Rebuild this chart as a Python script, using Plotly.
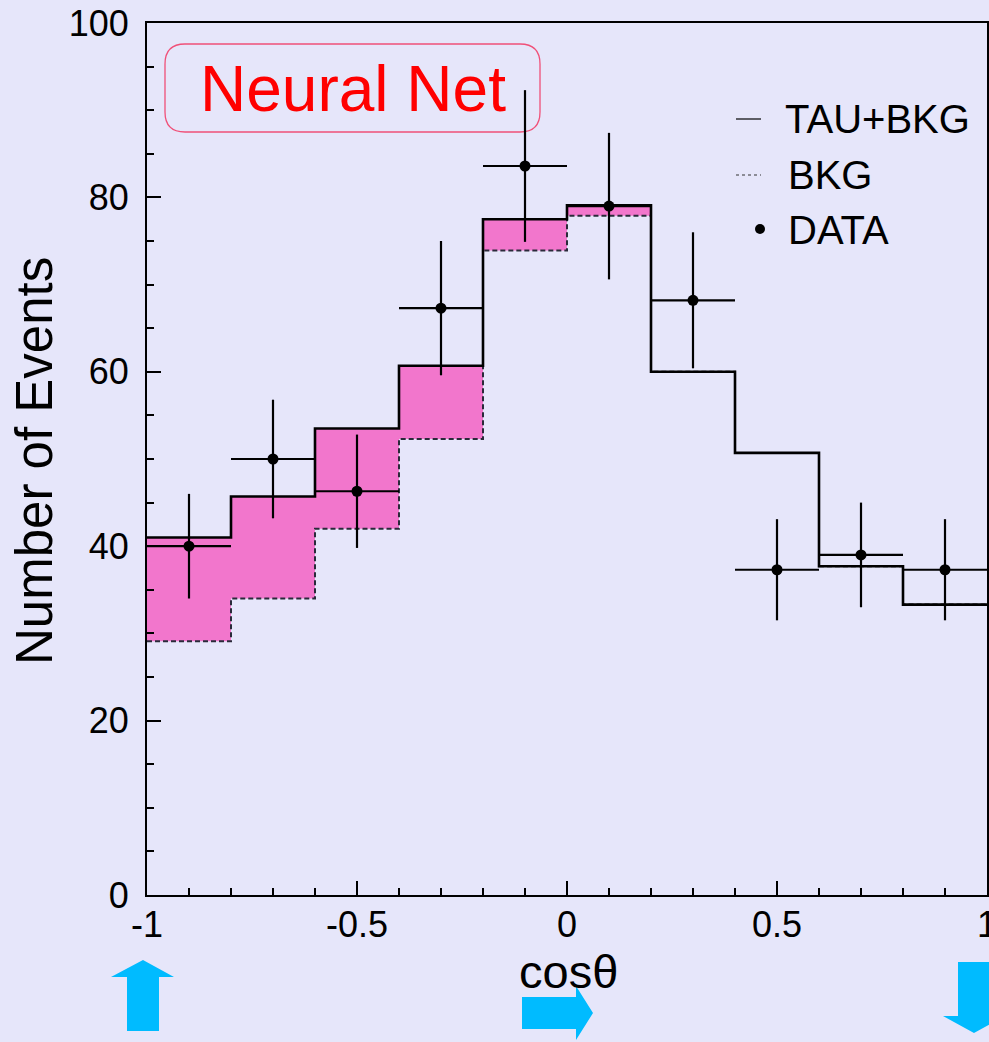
import plotly.graph_objects as go

# ---------------- data ----------------
bin_edges = [-1.0, -0.8, -0.6, -0.4, -0.2, 0.0, 0.2, 0.4, 0.6, 0.8, 1.0]
bin_centers = [-0.9, -0.7, -0.5, -0.3, -0.1, 0.1, 0.3, 0.5, 0.7, 0.9]
tau_bkg = [41.0, 45.7, 53.5, 60.7, 77.5, 79.1, 60.0, 50.7, 37.7, 33.3]
bkg = [29.1, 34.0, 42.0, 52.3, 73.9, 77.9, 60.0, 50.7, 37.7, 33.3]
data_vals = [40.0, 50.0, 46.3, 67.3, 83.6, 79.0, 68.2, 37.3, 39.0, 37.3]
data_err = [6.0, 6.8, 6.5, 7.7, 8.7, 8.4, 7.8, 5.8, 6.0, 5.8]
bin_half = [0.1] * 10
x_tickvals = [-1, -0.5, 0, 0.5, 1]
x_ticktext = ["-1", "-0.5", "0", "0.5", "1"]
y_tickvals = [0, 20, 40, 60, 80, 100]
y_ticktext = ["0", "20", "40", "60", "80", "100"]

BG = "#E6E6FA"
PINK = "#F276CC"
CYAN = "#00BBFF"
FONT = "Liberation Sans"

# plot-area geometry in pixels (used only for decorations)
W, H = 989, 1042
L, R, T, B = 147, 2, 23, 147
PW = W - L - R
PH = H - T - B


def px(x):
    return (x - L) / PW


def py(y):
    return (H - B - y) / PH


def path(points):
    s = "M " + " L ".join(f"{px(x):.5f},{py(y):.5f}" for x, y in points) + " Z"
    return s


fig = go.Figure()

# fill between BKG and TAU+BKG
fig.add_trace(go.Scatter(x=bin_edges, y=bkg + [bkg[-1]], mode="lines",
                         line=dict(shape="hv", width=0, color=PINK),
                         showlegend=False, hoverinfo="skip"))
fig.add_trace(go.Scatter(x=bin_edges, y=tau_bkg + [tau_bkg[-1]], mode="lines",
                         line=dict(shape="hv", width=0, color=PINK),
                         fill="tonexty", fillcolor=PINK,
                         showlegend=False, hoverinfo="skip"))
# BKG dashed line
fig.add_trace(go.Scatter(x=bin_edges, y=bkg + [bkg[-1]], mode="lines",
                         line=dict(shape="hv", width=2, color="#2a2a3a", dash="5px,3px"),
                         name="BKG", showlegend=False))
# TAU+BKG solid
fig.add_trace(go.Scatter(x=bin_edges, y=tau_bkg + [tau_bkg[-1]], mode="lines",
                         line=dict(shape="hv", width=2.6, color="black"),
                         name="TAU+BKG", showlegend=False))
# DATA
fig.add_trace(go.Scatter(x=bin_centers, y=data_vals, mode="markers",
                         marker=dict(size=11, color="black"),
                         error_x=dict(type="data", array=bin_half, width=0, thickness=2.2, color="black"),
                         error_y=dict(type="data", array=data_err, width=0, thickness=2.2, color="black"),
                         name="DATA", showlegend=False))

shapes = []
# Rounded box for "Neural Net"
x0, x1, y0, y1, r = 165, 540, 44, 132, 20
rb = (f"M {px(x0 + r):.5f},{py(y0):.5f} L {px(x1 - r):.5f},{py(y0):.5f} "
      f"Q {px(x1):.5f},{py(y0):.5f} {px(x1):.5f},{py(y0 + r):.5f} "
      f"L {px(x1):.5f},{py(y1 - r):.5f} "
      f"Q {px(x1):.5f},{py(y1):.5f} {px(x1 - r):.5f},{py(y1):.5f} "
      f"L {px(x0 + r):.5f},{py(y1):.5f} "
      f"Q {px(x0):.5f},{py(y1):.5f} {px(x0):.5f},{py(y1 - r):.5f} "
      f"L {px(x0):.5f},{py(y0 + r):.5f} "
      f"Q {px(x0):.5f},{py(y0):.5f} {px(x0 + r):.5f},{py(y0):.5f} Z")
shapes.append(dict(type="path", path=rb, xref="paper", yref="paper",
                   line=dict(color="#F05078", width=1.3), layer="below"))

# legend symbols
shapes.append(dict(type="line", xref="paper", yref="paper",
                   x0=px(736), x1=px(761), y0=py(119), y1=py(119),
                   line=dict(color="black", width=1.2)))
shapes.append(dict(type="line", xref="paper", yref="paper",
                   x0=px(736), x1=px(761), y0=py(175), y1=py(175),
                   line=dict(color="#333333", width=1.2, dash="3px,3px")))
shapes.append(dict(type="circle", xref="paper", yref="paper",
                   x0=px(755), x1=px(765), y0=py(224), y1=py(234),
                   fillcolor="black", line=dict(color="black", width=0)))

# arrows
up = [(127, 1031), (127, 977), (111, 977), (143, 960), (174, 977), (159, 977), (159, 1031)]
right = [(522, 997), (576, 997), (576, 986), (593, 1013), (576, 1040), (576, 1029), (522, 1029)]
down = [(958, 962), (991, 962), (991, 1016), (1005, 1016), (974, 1033), (943, 1016), (958, 1016)]
for pts in (up, right, down):
    shapes.append(dict(type="path", path=path(pts), xref="paper", yref="paper",
                       fillcolor=CYAN, line=dict(width=0)))

annotations = [
    dict(text="Neural Net", x=px(353), y=py(89), xref="paper", yref="paper",
         showarrow=False, xanchor="center", yanchor="middle",
         font=dict(family=FONT, size=64, color="#FF0000")),
    dict(text="TAU+BKG", x=px(783), y=py(119), xref="paper", yref="paper",
         showarrow=False, xanchor="left", yanchor="middle",
         font=dict(family=FONT, size=40, color="black")),
    dict(text="BKG", x=px(786), y=py(175), xref="paper", yref="paper",
         showarrow=False, xanchor="left", yanchor="middle",
         font=dict(family=FONT, size=40, color="black")),
    dict(text="DATA", x=px(786), y=py(230), xref="paper", yref="paper",
         showarrow=False, xanchor="left", yanchor="middle",
         font=dict(family=FONT, size=40, color="black")),
    dict(text="Number of Events", x=px(35), y=py(461), xref="paper", yref="paper",
         showarrow=False, xanchor="center", yanchor="middle", textangle=-90,
         font=dict(family=FONT, size=51, color="black")),
    dict(text="cosθ", x=px(568), y=py(971), xref="paper", yref="paper",
         showarrow=False, xanchor="center", yanchor="middle",
         font=dict(family=FONT, size=47, color="black")),
]

fig.update_layout(
    width=W, height=H,
    margin=dict(l=L, r=R, t=T, b=B, pad=0, autoexpand=False),
    paper_bgcolor=BG, plot_bgcolor=BG,
    showlegend=False,
    shapes=shapes, annotations=annotations,
    font=dict(family=FONT, color="black"),
    xaxis=dict(range=[-1, 1], showgrid=False, zeroline=False, automargin=False,
               showline=True, mirror=True, linecolor="black", linewidth=2,
               ticks="inside", ticklen=14, tickwidth=1.8, tickcolor="black",
               tickvals=x_tickvals, ticktext=x_ticktext,
               ticklabeloverflow="allow", ticklabelstandoff=-3,
               tickfont=dict(family=FONT, size=36, color="black"),
               minor=dict(ticks="inside", ticklen=7, tickwidth=1.5, tickcolor="black",
                          dtick=0.1, tick0=-1, showgrid=False)),
    yaxis=dict(range=[0, 100], showgrid=False, zeroline=False, automargin=False,
               showline=True, mirror=True, linecolor="black", linewidth=2,
               ticks="inside", ticklen=14, tickwidth=1.8, tickcolor="black",
               tickvals=y_tickvals, ticktext=y_ticktext,
               ticklabelstandoff=9,
               tickfont=dict(family=FONT, size=36, color="black"),
               minor=dict(ticks="inside", ticklen=7, tickwidth=1.5, tickcolor="black",
                          dtick=5, tick0=0, showgrid=False)),
)

fig.write_html("out.html")
